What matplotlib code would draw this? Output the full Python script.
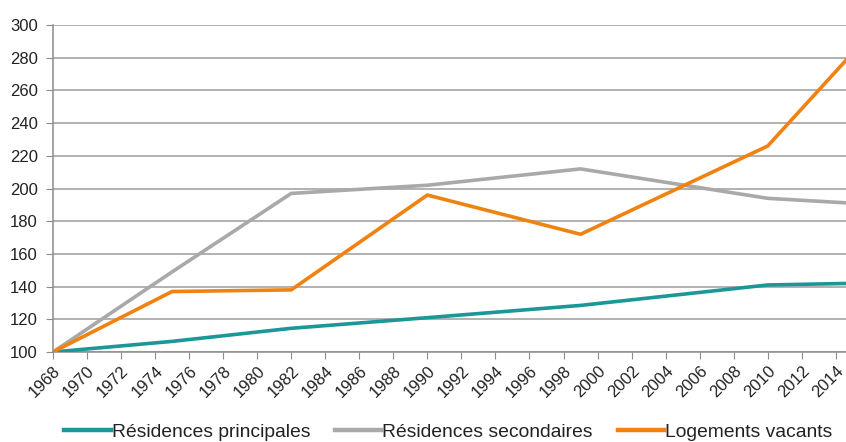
import numpy as np
import matplotlib
matplotlib.use("Agg")
import matplotlib.pyplot as plt

plt.rcParams["font.family"] = ["Liberation Sans", "DejaVu Sans"]

# data (index base 100 in 1968)
years = [1968, 1975, 1982, 1990, 1999, 2010, 2015]
principales = [100, 106.5, 114.5, 121, 128.5, 141, 142]
secondaires = [100, 149, 197, 202, 212, 194, 191]
vacants = [100, 137, 138, 196, 172, 226, 283]

labels = ["Résidences principales", "Résidences secondaires", "Logements vacants"]
colors = ["#1b9797", "#a9a9a9", "#f0820f"]

tick_years = list(range(1968, 2015, 2))
y_ticks = list(range(100, 301, 20))

fig = plt.figure(figsize=(8.46, 4.42), dpi=100)
ax = fig.add_axes([0.0626, 0.2036, 0.9374, 0.7398])

for series, lab, col in zip([principales, secondaires, vacants], labels, colors):
    ax.plot(years, series, color=col, linewidth=2.6, label=lab,
            solid_joinstyle="miter", zorder=3)

ax.set_xlim(1968, 2014.6)
ax.set_ylim(100, 300)
ax.set_yticks(y_ticks)
ax.set_xticks(tick_years)
ax.set_xticklabels([str(y) for y in tick_years], rotation=45,
                   ha="right", va="top", rotation_mode="anchor", fontsize=12)
ax.tick_params(axis="y", labelsize=12, length=5, color="#8c8c8c", pad=6,
               labelcolor="#222222")
ax.tick_params(axis="x", length=5, color="#8c8c8c", pad=3, labelcolor="#222222")

ax.grid(axis="y", color="#9c9c9c", linewidth=1.1)
ax.set_axisbelow(True)
for s in ["top", "right"]:
    ax.spines[s].set_visible(False)
for s in ["left", "bottom"]:
    ax.spines[s].set_color("#8c8c8c")
    ax.spines[s].set_linewidth(1.1)

leg = fig.legend(loc="center", bbox_to_anchor=(0.53, 0.023), ncol=3,
                 frameon=False, fontsize=13.9, handlelength=2.4,
                 handletextpad=0.05, columnspacing=1.3, borderpad=0)
for h in leg.get_lines():
    h.set_linewidth(3.2)
for t in leg.get_texts():
    t.set_color("#222222")

fig.savefig("out.png", dpi=100)
